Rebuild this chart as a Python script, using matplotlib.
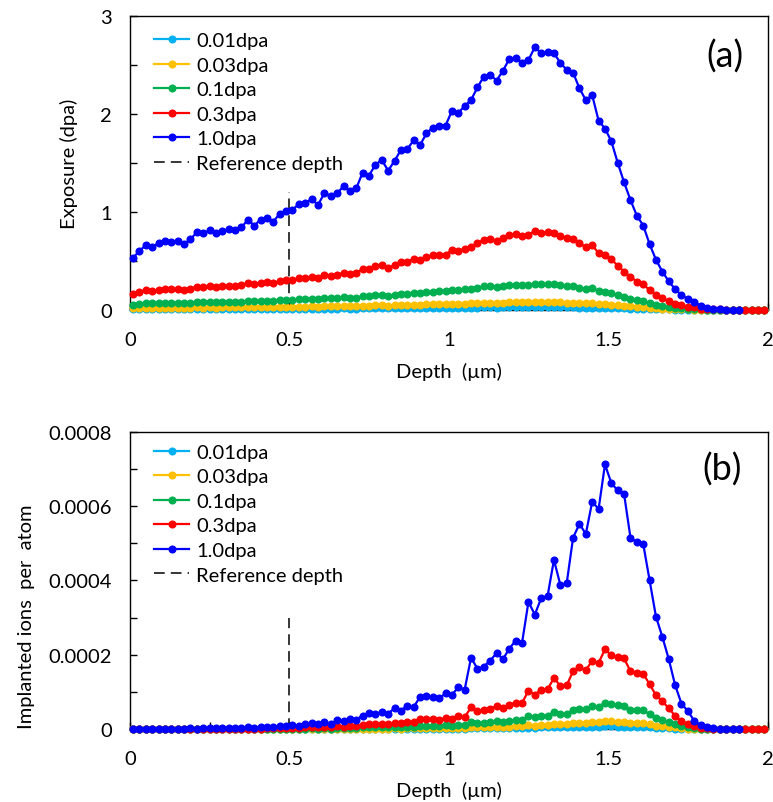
import numpy as np
import matplotlib.pyplot as plt
from matplotlib.ticker import MultipleLocator, FuncFormatter

plt.rcParams['font.family'] = ['Lato', 'DejaVu Sans']

# depth bins (um), 0.02 um wide
depth = np.round(np.arange(0.01, 2.0, 0.02), 2)

labels = ['0.01dpa', '0.03dpa', '0.1dpa', '0.3dpa', '1.0dpa']
colors = ['#00B0F0', '#FFC000', '#00B050', '#FF0000', '#0000FF']

# (a) exposure in dpa
exp_001 = [0.005, 0.006, 0.007, 0.006, 0.007, 0.007, 0.007, 0.007, 0.007, 0.007,
           0.008, 0.008, 0.008, 0.008, 0.008, 0.008, 0.008, 0.008, 0.009, 0.009,
           0.009, 0.009, 0.009, 0.010, 0.010, 0.010, 0.011, 0.011, 0.011, 0.011,
           0.012, 0.012, 0.012, 0.013, 0.012, 0.012, 0.014, 0.014, 0.015, 0.015,
           0.014, 0.015, 0.016, 0.016, 0.017, 0.017, 0.018, 0.019, 0.019, 0.019,
           0.020, 0.020, 0.021, 0.021, 0.023, 0.024, 0.024, 0.023, 0.024, 0.026,
           0.026, 0.025, 0.026, 0.027, 0.026, 0.026, 0.026, 0.025, 0.025, 0.024,
           0.023, 0.021, 0.022, 0.019, 0.019, 0.017, 0.015, 0.013, 0.011, 0.010,
           0.009, 0.007, 0.005, 0.004, 0.003, 0.002, 0.002, 0.001, 0.001, 0.000,
           0.000, 0.000, 0.000, 0.000, 0.000, 0.000, 0.000, 0.000, 0.000, 0.000]
exp_003 = [0.016, 0.018, 0.020, 0.019, 0.020, 0.021, 0.021, 0.021, 0.020, 0.022,
           0.024, 0.023, 0.024, 0.023, 0.024, 0.025, 0.024, 0.025, 0.028, 0.026,
           0.028, 0.028, 0.027, 0.029, 0.030, 0.031, 0.032, 0.033, 0.034, 0.032,
           0.036, 0.035, 0.036, 0.038, 0.036, 0.037, 0.042, 0.041, 0.044, 0.046,
           0.043, 0.046, 0.049, 0.049, 0.052, 0.050, 0.054, 0.056, 0.056, 0.056,
           0.061, 0.060, 0.062, 0.064, 0.068, 0.071, 0.072, 0.070, 0.073, 0.077,
           0.077, 0.076, 0.077, 0.080, 0.079, 0.079, 0.079, 0.076, 0.074, 0.073,
           0.068, 0.064, 0.066, 0.058, 0.056, 0.052, 0.045, 0.039, 0.034, 0.029,
           0.026, 0.020, 0.015, 0.012, 0.009, 0.006, 0.005, 0.003, 0.002, 0.001,
           0.001, 0.000, 0.000, 0.000, 0.000, 0.000, 0.000, 0.000, 0.000, 0.000]
exp_01 = [0.053, 0.060, 0.066, 0.064, 0.068, 0.070, 0.069, 0.070, 0.067, 0.072,
          0.079, 0.078, 0.081, 0.078, 0.080, 0.082, 0.081, 0.084, 0.092, 0.086,
          0.092, 0.094, 0.090, 0.098, 0.101, 0.102, 0.108, 0.109, 0.113, 0.107,
          0.119, 0.116, 0.119, 0.126, 0.121, 0.124, 0.140, 0.137, 0.148, 0.153,
          0.142, 0.152, 0.163, 0.164, 0.173, 0.168, 0.180, 0.186, 0.188, 0.188,
          0.203, 0.201, 0.208, 0.214, 0.227, 0.238, 0.240, 0.234, 0.244, 0.256,
          0.257, 0.252, 0.255, 0.268, 0.262, 0.263, 0.262, 0.252, 0.245, 0.242,
          0.226, 0.214, 0.219, 0.193, 0.185, 0.172, 0.150, 0.130, 0.112, 0.096,
          0.086, 0.067, 0.051, 0.039, 0.029, 0.021, 0.015, 0.011, 0.008, 0.004,
          0.002, 0.001, 0.001, 0.000, 0.000, 0.000, 0.000, 0.000, 0.000, 0.000]
exp_03 = [0.159, 0.180, 0.198, 0.192, 0.204, 0.210, 0.207, 0.210, 0.201, 0.216,
          0.237, 0.234, 0.243, 0.234, 0.240, 0.246, 0.243, 0.252, 0.276, 0.258,
          0.276, 0.282, 0.270, 0.294, 0.303, 0.306, 0.324, 0.327, 0.339, 0.321,
          0.357, 0.348, 0.357, 0.378, 0.363, 0.372, 0.420, 0.411, 0.444, 0.459,
          0.426, 0.456, 0.489, 0.492, 0.519, 0.504, 0.540, 0.558, 0.564, 0.564,
          0.609, 0.603, 0.624, 0.642, 0.681, 0.714, 0.720, 0.702, 0.732, 0.768,
          0.771, 0.756, 0.765, 0.804, 0.786, 0.789, 0.786, 0.756, 0.735, 0.726,
          0.678, 0.642, 0.657, 0.579, 0.555, 0.516, 0.450, 0.390, 0.336, 0.288,
          0.258, 0.201, 0.153, 0.117, 0.087, 0.063, 0.045, 0.033, 0.024, 0.012,
          0.006, 0.003, 0.003, 0.000, 0.000, 0.000, 0.000, 0.000, 0.000, 0.000]
exp_10 = [0.53, 0.60, 0.66, 0.64, 0.68, 0.70, 0.69, 0.70, 0.67, 0.72,
          0.79, 0.78, 0.81, 0.78, 0.80, 0.82, 0.81, 0.84, 0.92, 0.86,
          0.92, 0.94, 0.90, 0.98, 1.01, 1.02, 1.08, 1.09, 1.13, 1.07,
          1.19, 1.16, 1.19, 1.26, 1.21, 1.24, 1.40, 1.37, 1.48, 1.53,
          1.42, 1.52, 1.63, 1.64, 1.73, 1.68, 1.80, 1.86, 1.88, 1.88,
          2.03, 2.01, 2.08, 2.14, 2.27, 2.38, 2.40, 2.34, 2.44, 2.56,
          2.57, 2.52, 2.55, 2.68, 2.62, 2.63, 2.62, 2.52, 2.45, 2.42,
          2.26, 2.14, 2.19, 1.93, 1.85, 1.72, 1.50, 1.30, 1.12, 0.96,
          0.86, 0.67, 0.51, 0.39, 0.29, 0.21, 0.15, 0.11, 0.08, 0.04,
          0.02, 0.01, 0.01, 0.00, 0.00, 0.00]

# (b) implanted ions per atom, in units of 1e-4
ion_unit = 1e-4
ion_001 = [0, 0, 0, 0, 0, 0, 0, 0, 0, 0,
           0, 0, 0, 0, 0, 0, 0, 0, 0, 0,
           0, 0, 0, 0, 0, 0, 0, 0, 0, 0,
           0, 0, 0, 0, 0, 0, 0, 0, 0, 0,
           0, 0.01, 0, 0.01, 0.01, 0.01, 0.01, 0.01, 0.01, 0.01,
           0.01, 0.01, 0.01, 0.02, 0.02, 0.02, 0.02, 0.02, 0.02, 0.02,
           0.02, 0.02, 0.03, 0.03, 0.04, 0.04, 0.05, 0.04, 0.04, 0.05,
           0.06, 0.05, 0.06, 0.06, 0.07, 0.07, 0.06, 0.06, 0.05, 0.05,
           0.05, 0.04, 0.03, 0.02, 0.02, 0.01, 0.01, 0, 0, 0,
           0, 0, 0, 0, 0, 0, 0, 0, 0, 0]
ion_003 = [0, 0, 0, 0, 0, 0, 0, 0, 0, 0,
           0, 0, 0, 0, 0, 0, 0, 0, 0, 0,
           0, 0, 0, 0, 0, 0, 0, 0, 0, 0,
           0.01, 0, 0.01, 0.01, 0.01, 0.01, 0.01, 0.01, 0.01, 0.01,
           0.01, 0.02, 0.01, 0.02, 0.02, 0.03, 0.03, 0.03, 0.02, 0.03,
           0.03, 0.03, 0.03, 0.06, 0.05, 0.05, 0.06, 0.06, 0.06, 0.06,
           0.07, 0.07, 0.10, 0.09, 0.11, 0.11, 0.14, 0.12, 0.12, 0.15,
           0.17, 0.16, 0.18, 0.18, 0.21, 0.20, 0.19, 0.19, 0.15, 0.15,
           0.15, 0.12, 0.09, 0.07, 0.06, 0.04, 0.02, 0.01, 0.01, 0,
           0, 0, 0, 0, 0, 0, 0, 0, 0, 0]
ion_01 = [0, 0, 0, 0, 0, 0, 0, 0, 0, 0,
          0, 0, 0, 0, 0, 0, 0, 0, 0, 0,
          0, 0.01, 0.01, 0.01, 0.01, 0.01, 0.01, 0.01, 0.02, 0.01,
          0.02, 0.01, 0.02, 0.02, 0.03, 0.03, 0.04, 0.04, 0.04, 0.05,
          0.04, 0.06, 0.05, 0.06, 0.06, 0.09, 0.09, 0.09, 0.08, 0.10,
          0.09, 0.11, 0.11, 0.19, 0.16, 0.17, 0.18, 0.20, 0.19, 0.22,
          0.24, 0.23, 0.34, 0.31, 0.35, 0.36, 0.46, 0.39, 0.39, 0.52,
          0.55, 0.53, 0.61, 0.59, 0.71, 0.66, 0.64, 0.63, 0.52, 0.50,
          0.50, 0.40, 0.30, 0.25, 0.19, 0.12, 0.07, 0.05, 0.02, 0.01,
          0, 0, 0, 0, 0, 0, 0, 0, 0, 0]
ion_03 = [0, 0, 0, 0, 0, 0, 0, 0, 0, 0.01,
          0, 0.01, 0.01, 0.01, 0.01, 0.01, 0.01, 0.01, 0.01, 0.01,
          0.01, 0.02, 0.02, 0.02, 0.02, 0.03, 0.03, 0.04, 0.05, 0.04,
          0.06, 0.04, 0.07, 0.06, 0.08, 0.08, 0.11, 0.13, 0.12, 0.14,
          0.12, 0.17, 0.15, 0.19, 0.18, 0.26, 0.26, 0.26, 0.25, 0.29,
          0.28, 0.34, 0.32, 0.58, 0.49, 0.50, 0.55, 0.61, 0.56, 0.65,
          0.71, 0.70, 1.03, 0.92, 1.06, 1.07, 1.37, 1.16, 1.18, 1.55,
          1.66, 1.58, 1.84, 1.78, 2.14, 1.99, 1.93, 1.90, 1.55, 1.51,
          1.49, 1.20, 0.91, 0.74, 0.56, 0.35, 0.20, 0.14, 0.07, 0.03,
          0.02, 0.01, 0, 0, 0, 0, 0, 0, 0, 0]
ion_10 = [0.01, 0.01, 0.01, 0.01, 0.01, 0.01, 0.01, 0.01, 0.01, 0.02,
          0.01, 0.02, 0.02, 0.02, 0.03, 0.02, 0.03, 0.03, 0.04, 0.03,
          0.04, 0.05, 0.06, 0.08, 0.07, 0.10, 0.09, 0.13, 0.16, 0.14,
          0.19, 0.12, 0.23, 0.21, 0.28, 0.25, 0.36, 0.42, 0.39, 0.46,
          0.41, 0.56, 0.49, 0.63, 0.59, 0.86, 0.88, 0.85, 0.82, 0.96,
          0.92, 1.12, 1.06, 1.92, 1.62, 1.68, 1.84, 2.04, 1.88, 2.16,
          2.38, 2.32, 3.42, 3.08, 3.52, 3.58, 4.55, 3.88, 3.92, 5.15,
          5.52, 5.25, 6.12, 5.92, 7.12, 6.62, 6.42, 6.32, 5.15, 5.02,
          4.98, 4.00, 3.02, 2.48, 1.88, 1.18, 0.68, 0.48, 0.22, 0.10,
          0.05, 0.02, 0.01, 0.00, 0.00, 0.00]

ref_depth = 0.5

exposure = [exp_001, exp_003, exp_01, exp_03, exp_10]
ions = [ion_001, ion_003, ion_01, ion_03, ion_10]

fig = plt.figure(figsize=(7.73, 8.03), dpi=100)
ax1 = fig.add_axes([0.168, 0.613, 0.825, 0.366])
ax2 = fig.add_axes([0.168, 0.091, 0.825, 0.370])


def draw_panel(ax, series, scale, ymax, ymajor, yminor, ref_top, ylabel,
               tag, tag_xy, label_xy, legend_y):
    handles = []
    for vals, lab, col in zip(series, labels, colors):
        y = np.array(vals) * scale
        line, = ax.plot(depth[:len(y)], y, color=col, lw=1.6, marker='o', ms=4.8,
                        label=lab, clip_on=False, zorder=3)
        handles.append(line)
    ref, = ax.plot([ref_depth, ref_depth], [0, ref_top], color='black', lw=1.1,
                   dashes=(7, 4), label='Reference depth', zorder=2)
    handles.append(ref)

    ax.set_xlim(0, 2)
    ax.set_ylim(0, ymax)
    ax.xaxis.set_major_locator(MultipleLocator(0.5))
    ax.xaxis.set_minor_locator(MultipleLocator(0.25))
    ax.yaxis.set_major_locator(MultipleLocator(ymajor))
    ax.yaxis.set_minor_locator(MultipleLocator(yminor))
    ax.xaxis.set_major_formatter(FuncFormatter(lambda v, p: '{:g}'.format(v)))
    ax.yaxis.set_major_formatter(FuncFormatter(lambda v, p: '{:g}'.format(round(v, 6))))
    ax.tick_params(which='both', direction='in', length=5, width=1,
                   top=False, right=False, labelsize=14.5, colors='#000000')
    ax.tick_params(axis='y', pad=13)
    ax.tick_params(axis='x', pad=15)
    for sp in ax.spines.values():
        sp.set_linewidth(1.0)
        sp.set_color('black')

    ax.set_xlabel('Depth  (\u00b5m)', fontsize=14.5, labelpad=10)
    ax.set_ylabel(ylabel, fontsize=14.5)
    ax.yaxis.set_label_coords(*label_xy)

    ax.legend(handles=handles, loc='upper left', bbox_to_anchor=(0.038, legend_y),
              frameon=False, fontsize=14.5, handlelength=1.75, handletextpad=0.35,
              labelspacing=0.37, borderpad=0, borderaxespad=0)
    ax.text(tag_xy[0], tag_xy[1], tag, transform=ax.transAxes, fontsize=26,
            ha='center', va='center')


draw_panel(ax1, exposure, 1.0, 3, 1, 0.5, 1.2, 'Exposure (dpa)',
           '(a)', (0.933, 0.864), (-0.081, 0.5), 0.945)
draw_panel(ax2, ions, ion_unit, 0.0008, 0.0002, 0.0001, 0.0003,
           'Implanted ions  per  atom', '(b)', (0.928, 0.875), (-0.149, 0.38), 0.96)

fig.savefig('out.png', dpi=100)
